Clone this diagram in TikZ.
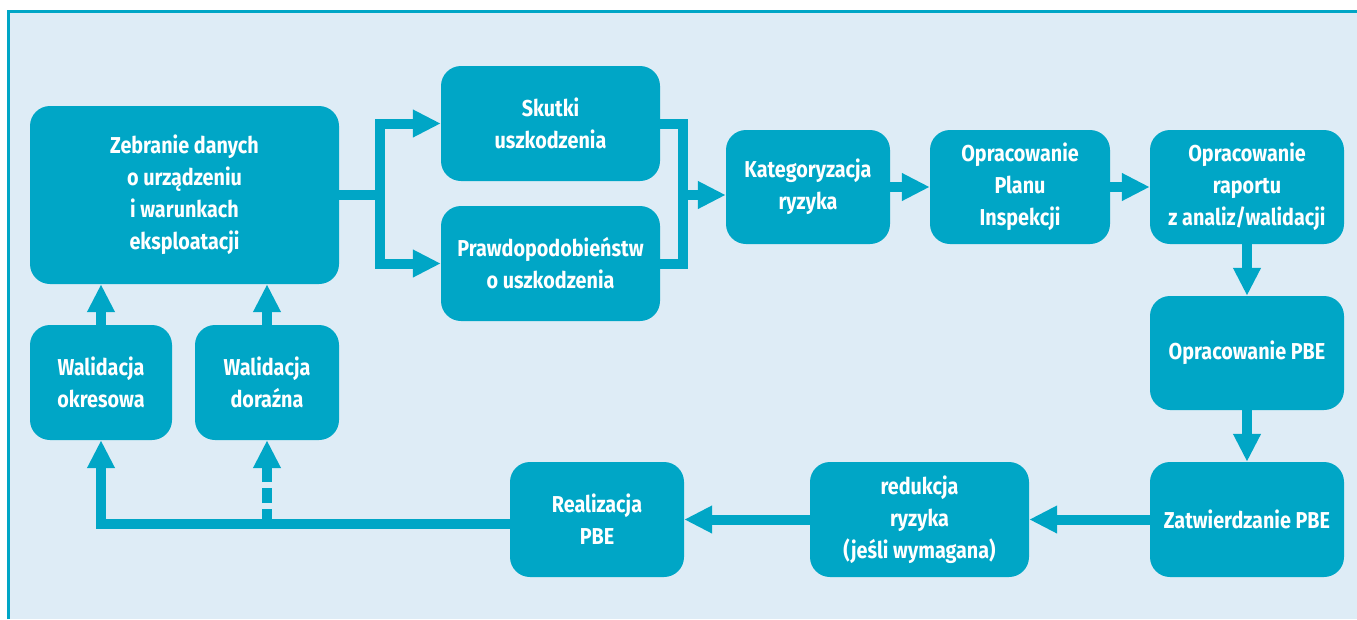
\documentclass[tikz,border=0pt]{standalone}
\usepackage{fontspec}
\setmainfont{Fira Sans}[FakeStretch=0.86]
\usetikzlibrary{arrows.meta}
\definecolor{teal}{HTML}{00A6C6}
\definecolor{paper}{HTML}{DEECF6}
\begin{document}
\begin{tikzpicture}[x=1pt,y=-1pt,
  font=\fontsize{23}{32}\selectfont\bfseries,
  box/.style={fill=teal,text=white,rounded corners=20pt,align=center,inner sep=0pt},
  bar/.style={draw=teal,line width=10pt},
  conn/.style={bar,-{Triangle[length=28pt,width=26pt]}}]
  \useasboundingbox (0,0) rectangle (1357,619);
  \fill[paper] (8,11) rectangle (1357,619);
  \draw[teal,line width=3pt] (8,619) -- (8,11) -- (1357,11);
  % boxes
  \node[box,minimum width=309pt,minimum height=178pt] (zebranie) at (184.5,195)
    {Zebranie danych\\o urządzeniu\\i warunkach\\eksploatacji};
  \node[box,minimum width=219pt,minimum height=115pt] (skutki) at (550.5,123.5)
    {Skutki\\uszkodzenia};
  \node[box,minimum width=219pt,minimum height=115pt] (prawd) at (550.5,263.5)
    {Prawdopodobieństw\\o uszkodzenia};
  \node[box,minimum width=164pt,minimum height=114pt] (kat) at (808,187)
    {Kategoryzacja\\ryzyka};
  \node[box,minimum width=180pt,minimum height=114pt] (plan) at (1020,187)
    {Opracowanie\\Planu\\Inspekcji};
  \node[box,minimum width=194pt,minimum height=114pt] (raport) at (1247,187)
    {Opracowanie\\raportu\\z analiz/walidacji};
  \node[box,minimum width=194pt,minimum height=114pt] (pbe) at (1247,353)
    {Opracowanie PBE};
  \node[box,minimum width=194pt,minimum height=115pt] (zatw) at (1247,519.5)
    {Zatwierdzanie PBE};
  \node[box,minimum width=219pt,minimum height=115pt] (redukcja) at (919.5,519.5)
    {redukcja\\ryzyka\\(jeśli wymagana)};
  \node[box,minimum width=174pt,minimum height=115pt] (realiz) at (597,519.5)
    {Realizacja\\PBE};
  \node[box,minimum width=142pt,minimum height=115pt] (walok) at (101,382.5)
    {Walidacja\\okresowa};
  \node[box,minimum width=144pt,minimum height=115pt] (waldor) at (267,382.5)
    {Walidacja\\doraźna};
  % connectors
  \coordinate (split) at (380,195);
  \coordinate (merge) at (683,195);
  \draw[bar] (zebranie.east) -- (split);
  \draw[conn] (split) |- (skutki.west);
  \draw[conn] (split) |- (prawd.west);
  \draw[bar] (skutki.east) -| (merge);
  \draw[bar] (prawd.east) -| (merge);
  \draw[conn] (merge) -- (kat.west |- merge);
  \draw[conn] (kat) -- (plan);
  \draw[conn] (plan) -- (raport);
  \draw[conn] (raport) -- (pbe);
  \draw[conn] (pbe) -- (zatw);
  \draw[conn] (zatw) -- (redukcja);
  \draw[conn] (redukcja) -- (realiz);
  \coordinate (ret) at (0,524);
  \draw[conn] (realiz.west |- ret) -| (walok.south);
  \draw[conn,dash pattern=on 15pt off 6pt] (waldor.south |- ret) -- (waldor.south);
  \draw[conn] (walok.north) -- (walok.north |- zebranie.south);
  \draw[conn] (waldor.north) -- (waldor.north |- zebranie.south);
\end{tikzpicture}
\end{document}
